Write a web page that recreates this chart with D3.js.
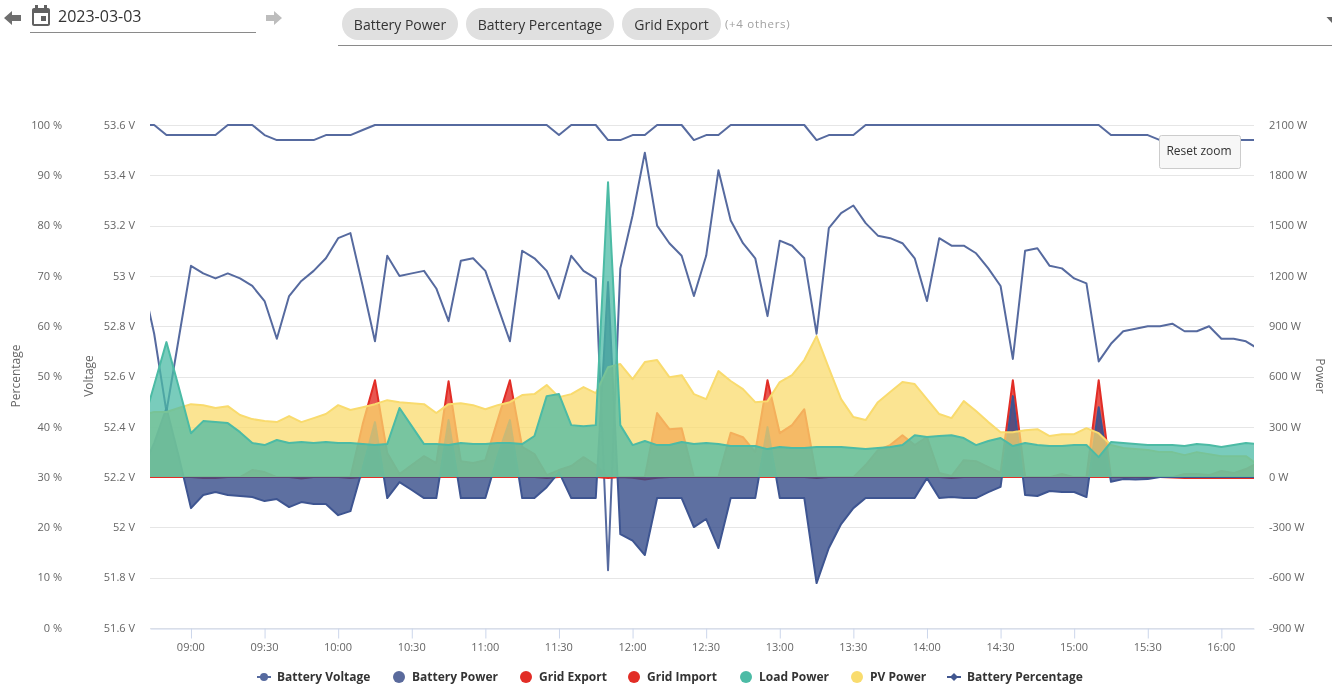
<!DOCTYPE html>
<html lang="en">
<head>
<meta charset="UTF-8">
<title>Solar dashboard</title>
<script src="https://d3js.org/d3.v7.min.js"></script>
<style>
    html, body { margin: 0; padding: 0; overflow: hidden; }
    svg { display: block; font-family: 'Open Sans', sans-serif; will-change: transform; }
    .grid line { stroke: #e6e6e6; }
    .axis path, .axis line { display: none; }
    .axis text { font: 11px 'Open Sans', sans-serif; fill: #666; }
    .xaxis path { stroke: #ccd6eb; }
    .xaxis line { stroke: #ccd6eb; }
    .axis-title { font: 12px 'Open Sans', sans-serif; fill: #666; }
    .legend text { font: bold 12px 'Open Sans', sans-serif; fill: #333; }
    .chip rect { fill: #e0e0e0; }
    .chip text { font: 14px 'Open Sans', sans-serif; fill: #333; }
</style>
</head>
<body>
<svg id="chart" width="1332" height="694"></svg>
<script>
// 5 minute samples, 08:40 to 16:15
var startTime = "08:40";

// volts
var batteryVoltage = [
  52.99, 52.77, 52.46, 52.75,
  53.04, 53.01, 52.99, 53.01, 52.99, 52.96, 52.90, 52.75, 52.92, 52.98, 53.02, 53.07,
  53.15, 53.17, 52.96, 52.74, 53.08, 53.00, 53.01, 53.02, 52.95, 52.82, 53.06, 53.07,
  53.02, 52.88, 52.74, 53.10, 53.07, 53.02, 52.91, 53.08, 53.02, 52.99, 51.83, 53.03,
  53.24, 53.49, 53.20, 53.13, 53.08, 52.92, 53.08, 53.42, 53.22, 53.13, 53.07, 52.84,
  53.14, 53.12, 53.07, 52.77, 53.19, 53.25, 53.28, 53.21, 53.16, 53.15, 53.13, 53.07,
  52.90, 53.15, 53.12, 53.12, 53.09, 53.03, 52.96, 52.67, 53.10, 53.11, 53.04, 53.03,
  52.99, 52.97, 52.66, 52.73, 52.78, 52.79, 52.80, 52.80, 52.81, 52.78, 52.78, 52.80,
  52.75, 52.75, 52.74, 52.71
];

// watts
var batteryPower = [
  36, 203, 412, 125,
  -185, -107, -89, -107, -113, -119, -143, -131, -179, -149, -161, -161,
  -227, -203, 54, 328, -125, -30, -77, -125, -125, 340, -125, -125,
  -125, 125, 340, -125, -125, -60, 30, -125, -125, -125, 1163, -340,
  -379, -465, -125, -125, -125, -298, -250, -423, -125, -125, -125, 298,
  -125, -125, -125, -632, -423, -280, -185, -125, -125, -125, -125, -125,
  -6, -125, -119, -125, -125, -90, -58, 483, -107, -113, -83, -89,
  -89, -119, 417, -28, -12, -14, -12, 0, 0, 0, 0, 0,
  0, 0, 0, 0
];

var gridExport = [
  0, 0, 0, 0,
  0, 0, 0, 0, 0, 42, 30, 0, 0, 0, 0, 0,
  0, 0, 316, 578, 143, 18, 72, 125, 84, 572, 95, 84,
  101, 340, 578, 180, 137, 12, 42, 66, 119, 72, 0, 0,
  0, 0, 382, 286, 292, 0, 0, 0, 265, 238, 149, 578,
  262, 310, 405, 0, 0, 0, 0, 72, 161, 191, 250, 191,
  239, 24, 6, 101, 95, 60, 26, 578, 0, 0, 0, 18,
  0, 0, 578, 0, 0, 0, 0, 0, 0, 18, 18, 12,
  36, 24, 48, 85
];

var gridImport = [
  0, 0, 0, 0,
  0, -6, -6, 0, 0, 0, 0, 0, 0, -8, 0, 0,
  0, -6, 0, 0, 0, 0, 0, 0, 0, 0, 0, 0,
  0, 0, 0, 0, 0, -6, 0, 0, 0, 0, -6, 0,
  -4, -15, -4, 0, 0, 0, 0, 0, 0, 0, 0, 0,
  0, 0, 0, -6, 0, 0, 0, 0, 0, 0, 0, 0,
  0, 0, -6, 0, 0, 0, 0, 0, 0, 0, 0, 0,
  0, 0, 0, 0, 0, 0, 0, 0, -3, -5, -5, -5,
  -6, -6, -6, -6
];

var loadPower = [
  292, 549, 805, 537,
  262, 334, 328, 322, 268, 203, 191, 221, 203, 209, 203, 209,
  203, 203, 197, 191, 197, 412, 304, 197, 197, 191, 203, 197,
  197, 203, 203, 197, 245, 483, 495, 310, 304, 310, 1759, 310,
  191, 215, 191, 191, 209, 197, 203, 197, 185, 185, 185, 167,
  179, 173, 173, 179, 179, 179, 173, 167, 173, 179, 191, 250,
  239, 245, 250, 233, 191, 215, 233, 185, 203, 191, 185, 185,
  191, 191, 119, 209, 203, 197, 191, 191, 191, 185, 197, 191,
  179, 191, 203, 197
];

var pvPower = [
  370, 388, 388, 412,
  435, 429, 412, 423, 370, 346, 334, 328, 364, 328, 352, 376,
  429, 400, 417, 435, 459, 447, 441, 435, 382, 435, 441, 429,
  405, 429, 447, 489, 495, 549, 477, 495, 537, 501, 656, 674,
  584, 686, 698, 596, 608, 495, 465, 632, 573, 525, 447, 453,
  567, 608, 698, 841, 650, 465, 358, 340, 447, 507, 567, 555,
  465, 376, 352, 453, 394, 328, 268, 268, 280, 286, 245, 256,
  256, 292, 262, 191, 173, 167, 161, 149, 149, 131, 149, 137,
  125, 125, 125, 72
];

// percent
var batteryPercentage = [
  100, 100, 98, 98,
  98, 98, 98, 100, 100, 100, 98, 97, 97, 97, 97, 98,
  98, 98, 99, 100, 100, 100, 100, 100, 100, 100, 100, 100,
  100, 100, 100, 100, 100, 100, 98, 100, 100, 100, 97, 97,
  98, 98, 100, 100, 100, 97, 98, 98, 100, 100, 100, 100,
  100, 100, 100, 97, 98, 98, 98, 100, 100, 100, 100, 100,
  100, 100, 100, 100, 100, 100, 100, 100, 100, 100, 100, 100,
  100, 100, 100, 98, 98, 98, 98, 97, 97, 97, 97, 97,
  97, 97, 97, 97
];

var timeTicks = ["09:00", "09:30", "10:00", "10:30", "11:00", "11:30", "12:00", "12:30",
                 "13:00", "13:30", "14:00", "14:30", "15:00", "15:30", "16:00"];
var percentTicks = [0, 10, 20, 30, 40, 50, 60, 70, 80, 90, 100];
var voltTicks = [51.6, 51.8, 52, 52.2, 52.4, 52.6, 52.8, 53, 53.2, 53.4, 53.6];
var powerTicks = [-900, -600, -300, 0, 300, 600, 900, 1200, 1500, 1800, 2100];
var legendNames = ["Battery Voltage", "Battery Power", "Grid Export", "Grid Import", "Load Power", "PV Power", "Battery Percentage"];

var svg = d3.select("#chart");

var plot = {left: 150, right: 1254, top: 125, bottom: 628};

var parseClock = d3.timeParse("%H:%M");
var sampleTime = d3.range(batteryVoltage.length).map(function(i) {
    return d3.timeMinute.offset(parseClock(startTime), i * 5);
});

// the plot starts and stops a little after a sample because of the zoom
var x = d3.scaleTime()
    .domain([d3.timeSecond.offset(parseClock("08:43"), 18), d3.timeSecond.offset(parseClock("16:13"), 18)])
    .range([plot.left, plot.right]);
var yPercent = d3.scaleLinear().domain([0, 100]).range([plot.bottom, plot.top]);
var yVolt = d3.scaleLinear().domain([51.6, 53.6]).range([plot.bottom, plot.top]);
var yPower = d3.scaleLinear().domain([-900, 2100]).range([plot.bottom, plot.top]);

svg.append("defs").append("clipPath").attr("id", "plot-clip")
  .append("rect")
    .attr("x", plot.left).attr("y", plot.top - 2)
    .attr("width", plot.right - plot.left)
    .attr("height", plot.bottom - plot.top + 4);

// gridlines
svg.append("g").attr("class", "grid")
  .selectAll("line").data(powerTicks).enter().append("line")
    .attr("x1", plot.left).attr("x2", plot.right)
    .attr("y1", function(d) { return Math.round(yPower(d)) + 0.5; })
    .attr("y2", function(d) { return Math.round(yPower(d)) + 0.5; });

// axes
svg.append("g").attr("class", "axis")
    .attr("transform", "translate(72,0)")
    .call(d3.axisLeft(yPercent).tickValues(percentTicks).tickSize(0).tickPadding(10)
        .tickFormat(function(d) { return d + " %"; }));
svg.append("g").attr("class", "axis")
    .attr("transform", "translate(145,0)")
    .call(d3.axisLeft(yVolt).tickValues(voltTicks).tickSize(0).tickPadding(10)
        .tickFormat(function(d) { return d + " V"; }));
svg.append("g").attr("class", "axis")
    .attr("transform", "translate(1259,0)")
    .call(d3.axisRight(yPower).tickValues(powerTicks).tickSize(0).tickPadding(10)
        .tickFormat(function(d) { return d + " W"; }));
svg.selectAll(".axis text").attr("dy", "0.29em");

var xAxis = svg.append("g").attr("class", "xaxis")
    .attr("transform", "translate(0," + (plot.bottom + 0.5) + ")")
    .call(d3.axisBottom(x).tickValues(timeTicks.map(parseClock)).tickSize(10).tickSizeOuter(0).tickPadding(5)
        .tickFormat(d3.timeFormat("%H:%M")));
xAxis.selectAll("text").attr("x", -0.6).style("font", "11px 'Open Sans', sans-serif").style("fill", "#666");

svg.append("text").attr("class", "axis-title").attr("text-anchor", "middle")
    .attr("transform", "translate(20,376) rotate(-90)").text("Percentage");
svg.append("text").attr("class", "axis-title").attr("text-anchor", "middle")
    .attr("transform", "translate(93,376) rotate(-90)").text("Voltage");
svg.append("text").attr("class", "axis-title").attr("text-anchor", "middle")
    .attr("transform", "translate(1316,376) rotate(90)").text("Power");

var chart = svg.append("g").attr("clip-path", "url(#plot-clip)");

function drawLine(values, y, color) {
    var line = d3.line()
        .x(function(d, i) { return x(sampleTime[i]); })
        .y(function(d) { return y(d); });
    chart.append("path").datum(values)
        .attr("fill", "none")
        .attr("stroke", color)
        .attr("stroke-width", 2)
        .attr("stroke-linejoin", "round")
        .attr("d", line);
}

function drawArea(values, fill, stroke, fillOpacity) {
    var area = d3.area()
        .x(function(d, i) { return x(sampleTime[i]); })
        .y0(yPower(0))
        .y1(function(d) { return yPower(d); });
    var line = area.lineY1();
    chart.append("path").datum(values)
        .attr("fill", fill)
        .attr("fill-opacity", fillOpacity)
        .attr("d", area);
    chart.append("path").datum(values)
        .attr("fill", "none")
        .attr("stroke", stroke)
        .attr("stroke-width", 2)
        .attr("stroke-linejoin", "round")
        .attr("d", line);
}

drawLine(batteryVoltage, yVolt, "#566a9f");
drawArea(gridExport, "#e22d26", "#e22d26", 0.8);
drawArea(gridImport, "#e22d26", "#e22d26", 0.8);
drawArea(batteryPower, "#364c8a", "#3e5591", 0.8);
drawArea(pvPower, "#f9db6e", "#f9db6e", 0.75);
drawArea(loadPower, "#4cbba5", "#4cbba5", 0.75);
drawLine(batteryPercentage, yPercent, "#566a9f");

// reset zoom button
var reset = svg.append("g");
reset.append("rect")
    .attr("x", 1159.5).attr("y", 135.5).attr("width", 81).attr("height", 33).attr("rx", 2)
    .attr("fill", "#f7f7f7").attr("stroke", "#cccccc");
reset.append("text").attr("x", 1199).attr("y", 155).attr("text-anchor", "middle")
    .style("font", "12px 'Open Sans', sans-serif").attr("fill", "#333").text("Reset zoom");

// legend
var legendText = [277, 412, 539, 647, 759, 870, 967];
var legendColor = ["#566a9f", "#5a6a9c", "#e22d26", "#e22d26", "#4cbba5", "#f9dc6e", "#41568f"];
var legendKind = ["line", "dot", "dot", "dot", "dot", "dot", "diamond"];
var legend = svg.append("g").attr("class", "legend");
legendNames.forEach(function(name, i) {
    var g = legend.append("g").attr("transform", "translate(" + legendText[i] + ",677)");
    g.append("text").attr("y", 4).text(name);
    if (legendKind[i] == "dot") {
        g.append("circle").attr("cx", -13).attr("r", 6).attr("fill", legendColor[i]);
    } else {
        g.append("line").attr("x1", -20).attr("x2", -6)
            .attr("stroke", legendColor[i]).attr("stroke-width", 2);
        if (legendKind[i] == "line") {
            g.append("circle").attr("cx", -13).attr("r", 4).attr("fill", legendColor[i]);
        } else {
            g.append("path").attr("transform", "translate(-13,0)")
                .attr("d", "M0,-4L4,0L0,4L-4,0Z").attr("fill", legendColor[i]);
        }
    }
});

// page header above the chart
var header = svg.append("g");
header.append("path")
    .attr("d", "M4,18L12,11V15H21V21H12V25Z").attr("fill", "#6e6e6e");
header.append("path")
    .attr("d", "M266,15H274V11L282,18L274,25V21H266Z").attr("fill", "#bdbdbd");
// calendar icon
header.append("path")
    .attr("fill", "#616161")
    .attr("d", "M48,8H47V5H44V8H38V5H35V8H34C32.9,8 32,8.9 32,10V24C32,25.1 32.9,26 34,26H48C49.1,26 50,25.1 50,24V10C50,8.9 49.1,8 48,8ZM48,24H34V13H48ZM41,16H46V21H41Z");
header.append("text").attr("x", 58).attr("y", 22)
    .style("font", "16px 'Open Sans', sans-serif").attr("fill", "#333").text("2023-03-03");
header.append("line").attr("x1", 30).attr("x2", 256).attr("y1", 32.5).attr("y2", 32.5).attr("stroke", "#8a8a8a");
header.append("line").attr("x1", 338).attr("x2", 1332).attr("y1", 45.5).attr("y2", 45.5).attr("stroke", "#8a8a8a");

var chips = [["Battery Power", 342, 116], ["Battery Percentage", 466, 148], ["Grid Export", 622, 99]];
chips.forEach(function(c) {
    var g = header.append("g").attr("class", "chip");
    g.append("rect").attr("x", c[1]).attr("y", 8).attr("width", c[2]).attr("height", 32).attr("rx", 16);
    g.append("text").attr("x", c[1] + c[2] / 2).attr("y", 30).attr("text-anchor", "middle").text(c[0]);
});
header.append("text").attr("x", 725).attr("y", 28)
    .style("font", "11.5px 'Open Sans', sans-serif").style("letter-spacing", "0.7px")
    .attr("fill", "#a0a0a0").text("(+4 others)");
header.append("path").attr("d", "M1326.5,17H1332V23Z").attr("fill", "#666");
</script>
</body>
</html>
